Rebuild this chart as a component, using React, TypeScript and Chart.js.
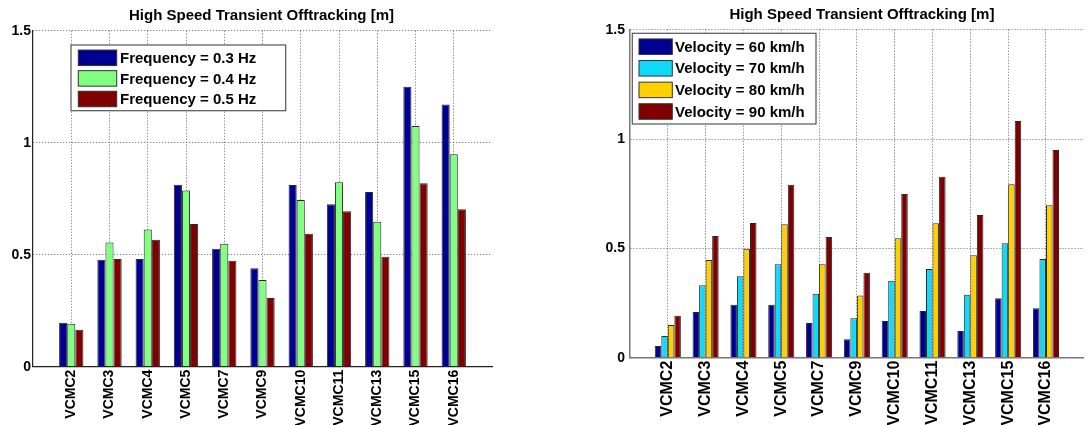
import React, { useEffect, useRef } from 'react';
import { Chart, registerables } from 'chart.js';

Chart.register(...registerables);

const FONT = '"Liberation Sans", Arial, Helvetica, sans-serif';

const categories = ['VCMC2', 'VCMC3', 'VCMC4', 'VCMC5', 'VCMC7', 'VCMC9', 'VCMC10', 'VCMC11', 'VCMC13', 'VCMC15', 'VCMC16'];

const freq03 = [0.196, 0.478, 0.481, 0.8125, 0.527, 0.439, 0.811, 0.725, 0.78, 1.25, 1.17];
const freq04 = [0.192, 0.555, 0.613, 0.787, 0.549, 0.387, 0.744, 0.823, 0.647, 1.075, 0.948];
const freq05 = [0.165, 0.481, 0.567, 0.637, 0.473, 0.307, 0.594, 0.694, 0.491, 0.819, 0.703];
const freqNames = ['Frequency = 0.3 Hz', 'Frequency = 0.4 Hz', 'Frequency = 0.5 Hz'];
const freqColors = ['#000090', '#80FF80', '#800000'];

const vel60 = [0.054, 0.209, 0.242, 0.242, 0.159, 0.084, 0.168, 0.214, 0.122, 0.272, 0.226];
const vel70 = [0.099, 0.331, 0.372, 0.427, 0.293, 0.18, 0.352, 0.406, 0.288, 0.523, 0.451];
const vel80 = [0.15, 0.447, 0.498, 0.61, 0.427, 0.284, 0.546, 0.615, 0.468, 0.793, 0.697];
const vel90 = [0.192, 0.556, 0.616, 0.791, 0.552, 0.389, 0.749, 0.828, 0.653, 1.082, 0.95];
const velNames = ['Velocity = 60 km/h', 'Velocity = 70 km/h', 'Velocity = 80 km/h', 'Velocity = 90 km/h'];
const velColors = ['#000090', '#10DAFA', '#FFD000', '#800000'];

const yTicks = [0, 0.5, 1, 1.5];
const yTickLabels = ['0', '0.5', '1', '1.5'];
const titleText = 'High Speed Transient Offtracking [m]';

const titlePlugin = {
  id: 'matTitle',
  afterDraw(chart: any, _args: any, opts: any) {
    const { ctx, chartArea } = chart;
    ctx.save();
    ctx.font = `bold ${opts.size}px ${FONT}`;
    ctx.fillStyle = '#000';
    ctx.textAlign = 'center';
    ctx.textBaseline = 'alphabetic';
    ctx.fillText(opts.text, (chartArea.left + chartArea.right) / 2 + (opts.dx || 0), opts.y);
    ctx.restore();
  },
};

const legendPlugin = {
  id: 'matLegend',
  afterDraw(chart: any, _args: any, o: any) {
    const { ctx, chartArea } = chart;
    const bx = chartArea.left + o.x;
    const by = chartArea.top + o.y;
    ctx.save();
    ctx.fillStyle = '#fff';
    ctx.fillRect(bx, by, o.w, o.h);
    ctx.strokeStyle = '#555';
    ctx.lineWidth = 1.2;
    ctx.strokeRect(bx, by, o.w, o.h);
    ctx.font = `bold ${o.size}px ${FONT}`;
    ctx.textAlign = 'left';
    ctx.textBaseline = 'middle';
    chart.data.datasets.forEach((ds: any, i: number) => {
      const cy = by + o.row0 + i * o.gap;
      ctx.fillStyle = ds.backgroundColor;
      ctx.fillRect(bx + o.sx, cy - o.sh / 2, o.sw, o.sh);
      ctx.strokeStyle = '#333';
      ctx.lineWidth = 1;
      ctx.strokeRect(bx + o.sx, cy - o.sh / 2, o.sw, o.sh);
      ctx.fillStyle = '#000';
      ctx.fillText(ds.label, bx + o.tx, cy + 1);
    });
    ctx.restore();
  },
};

function makeConfig(series: number[][], names: string[], colors: string[], p: any) {
  const labels = ['', ...categories, ''];
  const last = labels.length - 1;
  return {
    type: 'bar',
    data: {
      labels,
      datasets: series.map((vals, i) => ({
        label: names[i],
        data: [null, ...vals, null],
        backgroundColor: colors[i],
        borderColor: '#2a2a2a',
        borderWidth: 1,
        categoryPercentage: p.catPct,
        barPercentage: 1,
      })),
    },
    options: {
      responsive: false,
      animation: false,
      layout: { padding: { top: p.padTop, right: p.padRight, left: 0, bottom: 0 } },
      plugins: {
        legend: { display: false },
        tooltip: { enabled: false },
        title: { display: false },
        matTitle: { text: titleText, size: 15, y: p.titleY, dx: p.titleDx },
        matLegend: p.legend,
      },
      scales: {
        x: {
          type: 'category',
          offset: false,
          afterFit: (s: any) => { s.height = p.xAxisH; },
          grid: {
            offset: false,
            drawTicks: false,
            lineWidth: 1,
            color: (c: any) => (c.index === 0 || c.index === last ? 'rgba(0,0,0,0)' : '#666'),
          },
          border: { display: true, color: p.axisColor, width: p.axisWidth, dash: [1, 2] },
          ticks: {
            autoSkip: false,
            minRotation: 90,
            maxRotation: 90,
            padding: 3,
            color: '#000',
            font: { family: FONT, weight: 'bold', size: p.xFont },
          },
        },
        y: {
          min: yTicks[0],
          max: yTicks[yTicks.length - 1],
          afterFit: (s: any) => { s.width = p.yAxisW; },
          afterBuildTicks: (s: any) => { s.ticks = yTicks.map((v) => ({ value: v })); },
          grid: {
            drawTicks: false,
            lineWidth: 1,
            color: (c: any) => (c.tick && c.tick.value === yTicks[0] ? 'rgba(0,0,0,0)' : '#666'),
          },
          border: { display: true, color: p.axisColor, width: p.axisWidth, dash: [1, 2] },
          ticks: {
            padding: p.yPad,
            color: '#000',
            font: { family: FONT, weight: 'bold', size: 14 },
            callback: (v: any) => {
              const k = yTicks.indexOf(Number(v));
              return k >= 0 ? yTickLabels[k] : String(v);
            },
          },
        },
      },
    },
    plugins: [titlePlugin, legendPlugin],
  };
}

function Panel({ config, left, width, height }: any) {
  const ref = useRef<HTMLCanvasElement>(null);
  useEffect(() => {
    const chart = new Chart(ref.current as HTMLCanvasElement, config as any);
    return () => chart.destroy();
  }, []);
  return (
    <canvas
      ref={ref}
      width={width}
      height={height}
      style={{ position: 'absolute', left, top: 0, width, height }}
    />
  );
}

const leftConfig = makeConfig([freq03, freq04, freq05], freqNames, freqColors, {
  catPct: 0.636,
  padTop: 30.7,
  padRight: 53,
  xAxisH: 58.3,
  yAxisW: 33,
  yPad: 2,
  xFont: 14,
  titleY: 20,
  titleDx: -1,
  axisColor: '#222',
  axisWidth: 1.2,
  legend: { x: 38, y: 14.3, w: 214.7, h: 65.7, sx: 7.3, sw: 38.4, sh: 15.5, row0: 12.8, gap: 20.6, tx: 49, size: 15 },
});

const rightConfig = makeConfig([vel60, vel70, vel80, vel90], velNames, velColors, {
  catPct: 0.69,
  padTop: 29.7,
  padRight: 13.3,
  xAxisH: 67.3,
  yAxisW: 84,
  yPad: 5,
  xFont: 16,
  titleY: 19,
  titleDx: 5,
  axisColor: '#777',
  axisWidth: 1.5,
  legend: { x: 2.3, y: 3.6, w: 183.7, h: 90.7, sx: 6.7, sw: 33.3, sh: 15.5, row0: 13.4, gap: 21.6, tx: 42.7, size: 15 },
});

export default function App() {
  useEffect(() => {
    document.body.style.margin = '0';
  }, []);
  return (
    <div style={{ position: 'relative', width: 1091, height: 425, overflow: 'hidden', background: '#fff' }}>
      <Panel config={leftConfig} left={0} width={545} height={425} />
      <Panel config={rightConfig} left={546} width={560} height={425} />
    </div>
  );
}
